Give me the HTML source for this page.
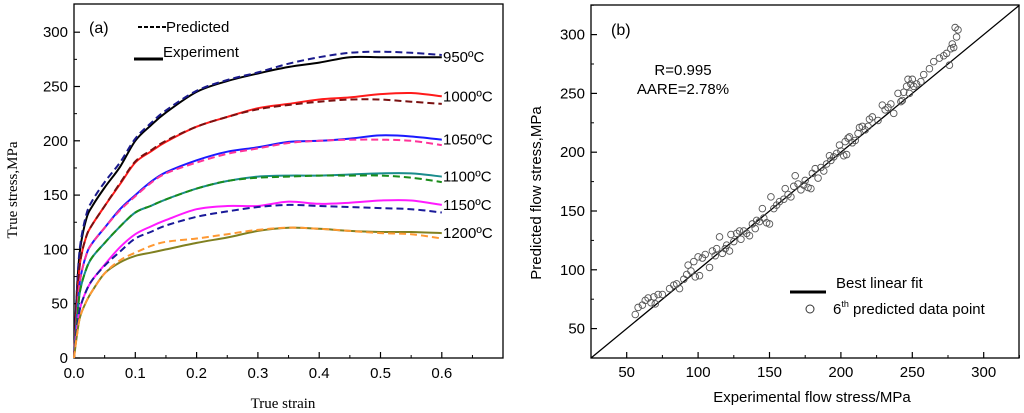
<!DOCTYPE html>
<html><head><meta charset="utf-8"><style>
html,body{margin:0;padding:0;background:#fff;}
svg{display:block;font-family:"Liberation Sans",sans-serif;}
</style></head><body>
<svg id="c" width="1024" height="413" viewBox="0 0 1024 413"></svg>
<script>
// ---- Panel (a) data ----
const strain=[0,0.005,0.01,0.02,0.03,0.05,0.075,0.1,0.125,0.15,0.2,0.25,0.3,0.35,0.4,0.45,0.5,0.55,0.6];
const temps=["950ºC","1000ºC","1050ºC","1100ºC","1150ºC","1200ºC"];
const exp950=[0,65,100,128,140,157,176,200,214,226,245,255,262,268,272,277,277,277,277];
const pred950=[0,65,103,132,145,162,180,202,216,228,246,256,263,271,277,281,282,281,279];
const exp1000=[0,52,88,112,123,140,160,180,190,199,213,222,230,234,238,240,243,244,241];
const pred1000=[0,52,88,112,123,140,161,181,191,200,213,222,229,233,236,238,238,236,234];
const exp1050=[0,42,72,95,106,120,137,150,162,171,182,190,194,199,200,202,205,204,201];
const pred1050=[0,42,72,95,106,120,136,149,161,170,180,188,193,198,200,201,201,200,196];
const exp1100=[0,36,62,82,93,106,121,134,140,146,156,163,167,168,168,169,170,170,167];
const pred1100=[0,36,62,82,93,106,121,134,140,146,156,163,166,167,168,168,168,166,162];
const exp1150=[0,28,46,62,72,86,102,114,121,127,137,140,140,144,142,143,145,145,141];
const pred1150=[0,28,46,62,72,85,98,110,116,122,130,135,139,141,140,139,138,137,134];
const exp1200=[0,22,38,52,62,78,88,94,97,100,106,111,117,120,119,117,116,116,115];
const pred1200=[0,22,38,52,62,78,90,97,103,107,110,114,118,120,119,117,115,114,110];
const xTicksA=["0.0","0.1","0.2","0.3","0.4","0.5","0.6"];
const yTicksA=[0,50,100,150,200,250,300];
// ---- Panel (b) data ----
const expPts=[56,58,61,63,65,67,69,70,72,75,80,83,85,87,90,92,93,95,97,98,100,101,103,105,108,110,112,113,115,117,119,120,122,123,125,127,129,130,132,134,136,138,140,141,143,145,146,148,150,151,153,155,157,160,161,163,165,167,168,170,172,174,175,177,179,180,182,184,186,188,190,192,193,195,197,199,200,202,203,204,205,206,208,210,212,213,215,217,219,220,222,226,229,231,233,235,237,240,242,243,244,246,247,248,249,250,251,253,256,258,262,265,269,272,274,276,277,278,279,280,281,282];
const predPts=[62,68,70,74,76,72,77,71,79,79,84,87,88,84,92,96,104,99,107,94,111,95,110,113,102,116,112,118,128,114,118,121,116,130,124,131,133,126,133,131,129,139,135,142,141,152,144,140,139,162,152,155,158,160,169,164,162,171,180,173,168,172,176,170,169,182,186,178,187,184,190,197,193,196,199,206,201,197,209,198,212,213,208,210,216,221,222,219,222,228,230,227,240,236,238,241,233,250,243,244,251,256,262,250,258,262,256,258,260,266,271,277,280,282,284,274,288,292,289,306,298,304];
const xTicksB=[50,100,150,200,250,300];
const yTicksB=[50,100,150,200,250,300];

const NS="http://www.w3.org/2000/svg";
const svg=document.getElementById('c');
function mk(t,a,p){const e=document.createElementNS(NS,t);for(const k in a)e.setAttribute(k,a[k]);(p||svg).appendChild(e);return e;}
function txt(s,a,p){const e=mk('text',a,p);e.textContent=s;return e;}

const ax=v=>74+v/0.1*61.3, ay=v=>358-v*1.086;
const ga=mk('g',{});


const fa=mk('rect',{x:74,y:4,width:429,height:354,fill:'none',stroke:'#000','stroke-width':1.3},ga);


xTicksA.forEach((l,i)=>{const x=ax(i*0.1);mk('line',{x1:x,y1:358,x2:x,y2:352,stroke:'#000','stroke-width':1.2},ga);
 const t=txt(l,{x:x,y:378,'font-size':15,'text-anchor':'middle'},ga);
 
 const xm=ax(i*0.1+0.05);mk('line',{x1:xm,y1:358,x2:xm,y2:355,stroke:'#000'},ga);});
yTicksA.forEach(v=>{const y=ay(v);mk('line',{x1:74,y1:y,x2:80,y2:y,stroke:'#000','stroke-width':1.2},ga);
 const t=txt(v,{x:68,y:y+5,'font-size':15,'text-anchor':'end'},ga);
 
 const ym=ay(v+25);if(v<300){mk('line',{x1:74,y1:ym,x2:77,y2:ym,stroke:'#000'},ga);}});
const series=[[exp950,pred950,'#000','#1a1a8c'],[exp1000,pred1000,'#ff1a1a','#7a1010'],[exp1050,pred1050,'#1a1aff','#ff3399'],[exp1100,pred1100,'#1a8c8c','#1a8c1a'],[exp1150,pred1150,'#ff1aff','#1a1a99'],[exp1200,pred1200,'#808020','#ff9933']];
function pathOf(arr){
 const P=arr.map((v,i)=>[ax(strain[i]),ay(v)]);
 let d='M'+P[0][0].toFixed(1)+' '+P[0][1].toFixed(1);
 for(let i=0;i<P.length-1;i++){
  const p0=P[i-1]||P[i],p1=P[i],p2=P[i+1],p3=P[i+2]||P[i+1];
  const c1=[p1[0]+(p2[0]-p0[0])/6,p1[1]+(p2[1]-p0[1])/6];
  const c2=[p2[0]-(p3[0]-p1[0])/6,p2[1]-(p3[1]-p1[1])/6];
  d+=' C'+c1[0].toFixed(1)+' '+c1[1].toFixed(1)+' '+c2[0].toFixed(1)+' '+c2[1].toFixed(1)+' '+p2[0].toFixed(1)+' '+p2[1].toFixed(1);
 }
 return d;}
series.forEach((s,i)=>{
 const e=mk('path',{d:pathOf(s[0]),fill:'none',stroke:s[2],'stroke-width':2,'stroke-linejoin':'round'},ga);
 
 const p=mk('path',{d:pathOf(s[1]),fill:'none',stroke:s[3],'stroke-width':2,'stroke-dasharray':'7 4'},ga);
 
 const t=txt(temps[i],{x:443,y:ay(s[0][s[0].length-1])+5,'font-size':15},ga);
 
});
let t;
t=txt('(a)',{x:89,y:33,'font-size':16},ga);
mk('line',{x1:138,y1:27,x2:166,y2:27,stroke:'#000','stroke-width':2,'stroke-dasharray':'4 2'},ga);
t=txt('Predicted',{x:166,y:32,'font-size':15},ga);
mk('line',{x1:134,y1:59,x2:163,y2:59,stroke:'#000','stroke-width':3},ga);
t=txt('Experiment',{x:163,y:57,'font-size':15},ga);
t=txt('True strain',{x:283,y:408,'font-size':15,'text-anchor':'middle','font-family':'Liberation Serif,serif'},ga);
t=txt('True stress,MPa',{x:0,y:0,'font-size':15,'text-anchor':'middle','font-family':'Liberation Serif,serif',transform:'translate(17,190) rotate(-90)'},ga);

const bx=v=>591+(v-25)*1.428, by=v=>358-(v-25)*1.176;
const gb=mk('g',{});


const fb=mk('rect',{x:591,y:5,width:428,height:353,fill:'none',stroke:'#000','stroke-width':1.3},gb);


xTicksB.forEach(v=>{const x=bx(v);mk('line',{x1:x,y1:358,x2:x,y2:352,stroke:'#000','stroke-width':1.2},gb);mk('line',{x1:bx(v+25),y1:358,x2:bx(v+25),y2:355,stroke:'#000'},gb);
 const t=txt(v,{x:x,y:377,'font-size':15,'text-anchor':'middle'},gb);});
yTicksB.forEach(v=>{const y=by(v);mk('line',{x1:591,y1:y,x2:597,y2:y,stroke:'#000','stroke-width':1.2},gb);mk('line',{x1:591,y1:by(v+25),x2:594,y2:by(v+25),stroke:'#000'},gb);
 const t=txt(v,{x:585,y:y+5,'font-size':15,'text-anchor':'end'},gb);});
const fit=mk('line',{x1:bx(25),y1:by(25),x2:bx(325),y2:by(325),stroke:'#000','stroke-width':1.3},gb);

expPts.forEach((v,i)=>{const c=mk('circle',{cx:bx(v),cy:by(predPts[i]),r:3.3,fill:'none',stroke:'#555','stroke-width':0.9},gb);
 });
t=txt('(b)',{x:611,y:35,'font-size':16},gb);
t=txt('R=0.995',{x:683,y:75,'font-size':15,'text-anchor':'middle'},gb);
t=txt('AARE=2.78%',{x:683,y:94,'font-size':15,'text-anchor':'middle'},gb);
mk('line',{x1:790,y1:292,x2:826,y2:292,stroke:'#000','stroke-width':3},gb);
t=txt('Best linear fit',{x:836,y:288,'font-size':15},gb);
mk('circle',{cx:810,cy:309,r:4,fill:'none',stroke:'#333'},gb);
const lt=txt('',{x:833,y:314,'font-size':15},gb);


lt.innerHTML='6<tspan dy="-7" font-size="9">th</tspan><tspan dy="7"> predicted data point</tspan>';
t=txt('Experimental flow stress/MPa',{x:812,y:402,'font-size':15,'text-anchor':'middle'},gb);
t=txt('Predicted flow stress,MPa',{x:0,y:0,'font-size':15,'text-anchor':'middle',transform:'translate(541,193) rotate(-90)'},gb);
</script>
</body></html>
